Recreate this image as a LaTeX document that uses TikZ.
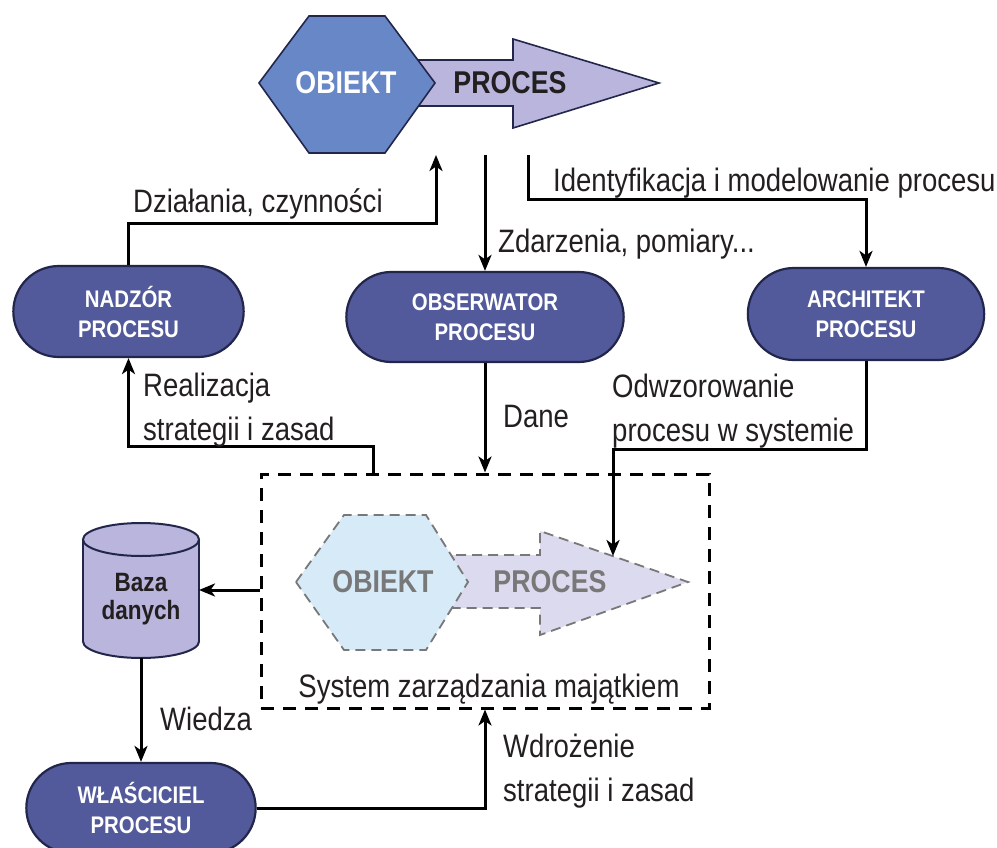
\documentclass[tikz,border=0pt]{standalone}
\usepackage{fontspec}
\setmainfont{Liberation Sans}[FakeStretch=0.85]
\usetikzlibrary{shapes.misc,arrows.meta}
\definecolor{pillc}{RGB}{82,90,155}
\definecolor{pillb}{RGB}{35,38,75}
\definecolor{tophex}{RGB}{104,135,198}
\definecolor{toparr}{RGB}{185,181,220}
\definecolor{inhex}{RGB}{214,234,247}
\definecolor{inarr}{RGB}{220,218,238}
\definecolor{ingray}{RGB}{120,120,120}
\definecolor{cylc}{RGB}{185,181,220}
\definecolor{darktxt}{RGB}{35,31,32}
\begin{document}
\begin{tikzpicture}[x=1pt,y=-1pt,
  conn/.style={line width=3pt, -{Stealth[length=16pt,width=13pt,inset=4.5pt]}},
  pill/.style={rounded rectangle, draw=pillb, line width=2.2pt, fill=pillc, text=white,
    font=\bfseries\fontsize{24}{30}\selectfont, align=center},
  lab/.style={font=\fontsize{32.4}{43.5}\selectfont, align=left, inner sep=0pt, text=darktxt},
  bigtxt/.style={font=\bfseries\fontsize{31.5}{32}\selectfont, inner sep=0pt},
  inshape/.style={draw=ingray, line width=1.8pt, dash pattern=on 10pt off 6pt},
]
\useasboundingbox (0,0) rectangle (997,848);

% top object/process symbol
\draw[fill=toparr, draw=pillb, line width=1.6pt] (418,60) -- (513,60) -- (513,39) -- (659,83) -- (513,128) -- (513,106) -- (418,106) -- cycle;
\draw[fill=tophex, draw=pillb, line width=1.6pt] (259,83) -- (309,16) -- (385,16) -- (435,83) -- (385,153) -- (309,153) -- cycle;
\node[bigtxt, text=white] (obiekt) at (346,83) {OBIEKT};
\node[bigtxt, text=darktxt] (proces) at (510,83) {PROCES};
\coordinate (t1) at (436,155);
\coordinate (t2) at (485,155);
\coordinate (t3) at (528,155);

% pills
\node[pill, minimum width=237pt, minimum height=91pt] (nadzor) at (128.5,311.5) {NADZÓR\\PROCESU};
\node[pill, minimum width=284pt, minimum height=90pt] (observator) at (485,317) {OBSERWATOR\\PROCESU};
\node[pill, minimum width=243pt, minimum height=92pt] (architekt) at (866,314) {ARCHITEKT\\PROCESU};
\node[pill, minimum width=236pt, minimum height=90pt] (wlasciciel) at (141,808) {WŁAŚCICIEL\\PROCESU};

% system box
\node[draw, line width=3pt, dash pattern=on 13pt off 9pt, minimum width=448pt, minimum height=234pt, inner sep=0pt] (sys) at (485,591) {};
\draw[inshape, fill=inarr] (440,555) -- (540,555) -- (540,531) -- (688,582) -- (540,635) -- (540,608) -- (440,608) -- cycle;
\draw[inshape, fill=inhex] (296,582) -- (344,515) -- (426,515) -- (468,582) -- (426,650) -- (344,650) -- cycle;
\node[bigtxt, text=ingray] (obiekt2) at (383,582) {OBIEKT};
\node[bigtxt, text=ingray] (proces2) at (550,582) {PROCES};
\node[lab, anchor=base] (systxt) at (489,697) {System zarządzania majątkiem};
\coordinate (headedge) at (613,556);

% database cylinder
\fill[cylc] (83,539.5) rectangle (199,641.5);
\fill[cylc] (141,641.5) ellipse [x radius=58, y radius=16.5];
\draw[line width=2pt, draw=pillb] (83,539.5) -- (83,641.5) (199,539.5) -- (199,641.5);
\begin{scope}
\clip (70,641.5) rectangle (210,670);
\draw[line width=2pt, draw=pillb] (141,641.5) ellipse [x radius=58, y radius=16.5];
\end{scope}
\draw[line width=2pt, draw=pillb, fill=cylc] (141,539.5) ellipse [x radius=58, y radius=16.5];
\node[font=\bfseries\fontsize{26.5}{28}\selectfont, align=center, text=darktxt] (baza) at (141,599) {Baza\\danych};
\coordinate (bazaR) at (199,590);
\coordinate (bazaB) at (141,658);

% connectors
\draw[conn] (nadzor.north) -- ++(0,-41) -| (t1);
\draw[conn] (t2) -- (observator.north);
\draw[conn] (t3) -- ++(0,45) -| (architekt.north);
\draw[conn] ([xshift=-112pt]sys.north) -- ++(0,-26) -| (nadzor.south);
\draw[conn] (observator.south) -- (sys.north);
\draw[conn] (architekt.south) -- ++(0,88) -| (headedge);
\draw[conn] (sys.west |- bazaR) -- (bazaR);
\draw[conn] (bazaB) -- (wlasciciel.north);
\draw[conn] (wlasciciel.east) -| (sys.south);

% labels
\node[lab, anchor=base west] (l1) at (133,212) {Działania, czynności};
\node[lab, anchor=base west] (l2) at (553,192) {Identyfikacja i modelowanie procesu};
\node[lab, anchor=base west] (l3) at (498,252) {Zdarzenia, pomiary...};
\node[lab, anchor=west] (l4) at (143,410) {Realizacja\\strategii i zasad};
\node[lab, anchor=base west] (l5) at (503,427) {Dane};
\node[lab, anchor=west] (l6) at (612,411) {Odwzorowanie\\procesu w systemie};
\node[lab, anchor=base west] (l7) at (160,730) {Wiedza};
\node[lab, anchor=west] (l8) at (503,771) {Wdrożenie\\strategii i zasad};
\end{tikzpicture}
\end{document}
